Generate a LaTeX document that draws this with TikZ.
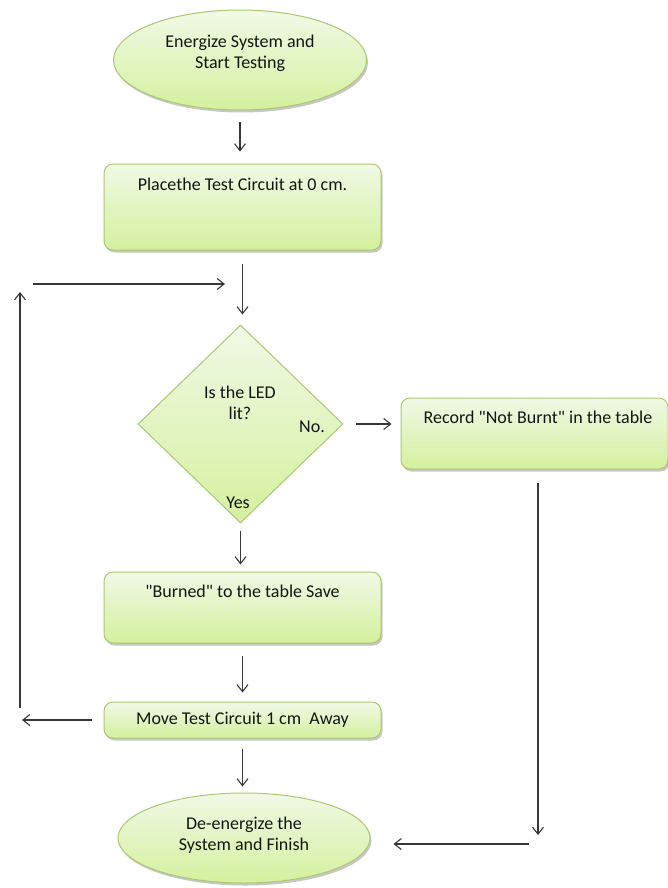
\documentclass[tikz,border=0pt]{standalone}
\usepackage{fontspec}
\setmainfont{Carlito}[Ligatures=TeXOff]
\usetikzlibrary{shapes.geometric,arrows.meta,shadows}
\definecolor{gtop}{RGB}{241,249,230}
\definecolor{gbot}{RGB}{212,240,158}
\definecolor{gline}{RGB}{170,200,112}
\definecolor{arrc}{RGB}{55,55,55}
\definecolor{txtc}{RGB}{20,20,20}
\begin{document}
\begin{tikzpicture}[x=1pt,y=-1pt,
  every node/.style={font=\fontsize{18}{20.5}\selectfont, text=txtc},
  greenfill/.style={draw=gline, line width=1pt, top color=gtop, bottom color=gbot},
  shade/.style={drop shadow={shadow xshift=1.5pt, shadow yshift=-2.5pt, fill=black, opacity=0.22}},
  box/.style={greenfill, shade, rounded corners=9pt, inner xsep=0pt, inner ysep=0pt},
  oval/.style={greenfill, shade, ellipse, inner sep=0pt},
  decision/.style={greenfill, diamond, inner sep=0pt},
  lbl/.style={inner sep=0pt, align=center},
  arr/.style={draw=arrc, line width=1.1pt, -{Straight Barb[length=7pt,width=11pt]}}
]
\useasboundingbox (0,0) rectangle (667,888);

% nodes
\node[oval, minimum width=253pt, minimum height=100pt] (start) at (240,60)
  {\raisebox{6pt}[\height][\depth]{\begin{tabular}{@{}c@{}}Energize System and\\Start Testing\end{tabular}}};
\node[box, minimum width=277pt, text height=26pt, text depth=60pt] (place) at (242.5,207)
  {Placethe Test Circuit at 0 cm.};
\node[decision, minimum width=205pt, minimum height=198pt] (led) at (240.5,424) {};
\node[lbl] (ledq) at (240,403) {Is the LED\\lit?};
\node[lbl] (no) at (312,427) {No.};
\node[lbl] (yes) at (238,503) {Yes};
\node[box, minimum width=267pt, text height=25pt, text depth=46pt] (notburnt) at (534.5,433.5)
  {\hspace*{7pt}Record "Not Burnt" in the table};
\node[box, minimum width=277pt, text height=25pt, text depth=46pt] (burned) at (242.5,607.5)
  {"Burned" to the table Save};
\node[box, minimum width=277pt, minimum height=36pt] (move) at (242.5,720)
  {Move Test Circuit 1 cm\ \ Away};
\node[oval, minimum width=252pt, minimum height=90pt] (finish) at (244,838)
  {\raisebox{2pt}[\height][\depth]{\begin{tabular}{@{}c@{}}De-energize the\\System and Finish\end{tabular}}};

% helper coordinates
\coordinate (lb) at (20,722);
\coordinate (lt) at (20,284);
\coordinate (entry) at (241,284);
\coordinate (rc) at (538,844);

% connectors
\draw[arr, shorten <=12pt, shorten >=12pt] (start.south) -- (start.south |- place.north);
\draw[arr, shorten <=13pt, shorten >=10pt] (place.south) -- (place.south |- led.north);
\draw[arr, shorten <=12pt, shorten >=9pt] (led.east) -- (led.east -| notburnt.west);
\draw[arr, shorten <=7pt, shorten >=7pt] (led.south) -- (led.south |- burned.north);
\draw[arr, shorten <=12pt, shorten >=9pt] (burned.south) -- (move.north);
\draw[arr, shorten <=10pt, shorten >=6pt] (move.south) -- (move.south |- finish.north);
\draw[arr, shorten <=12pt, shorten >=2pt] (move.west) -- (move.west -| lb);
\draw[arr, shorten <=14pt, shorten >=8pt] (lb) -- (lt);
\draw[arr, shorten <=13pt, shorten >=16pt] (lt) -- (entry);
\draw[arr, shorten <=13pt, shorten >=9pt] (notburnt.south -| rc) -- (rc);
\draw[arr, shorten <=9pt, shorten >=23pt] (rc) -- (finish.east |- rc);
\end{tikzpicture}
\end{document}
